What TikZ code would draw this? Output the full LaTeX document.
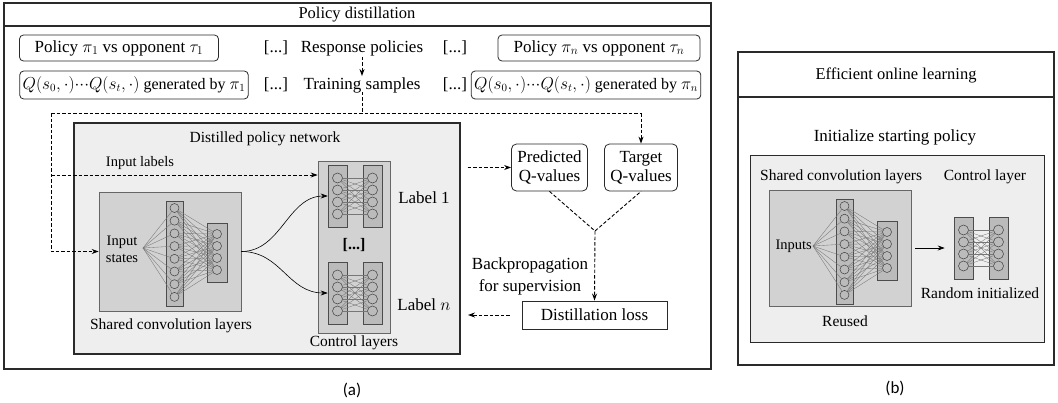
\documentclass[tikz,border=0pt]{standalone}
\usepackage{fontspec}
\setmainfont{Liberation Serif}
\newfontfamily\labfont{Carlito}
\usetikzlibrary{arrows.meta}
\definecolor{bord}{HTML}{2A2A2A}
\definecolor{lightbg}{HTML}{EEEEEE}
\definecolor{netbg}{HTML}{D2D2D2}
\definecolor{colbg}{HTML}{BBBBBB}
\definecolor{wirec}{HTML}{777777}
\newcommand\tdots{\mathord{\cdot}\mathord{\cdot}\mathord{\cdot}}
\tikzset{
  txt/.style={font=\fontsize{17}{19}\selectfont, inner sep=0pt},
  mid/.style={font=\fontsize{15.5}{18}\selectfont, inner sep=0pt},
  small/.style={font=\fontsize{14.5}{17}\selectfont, inner sep=0pt},
  head/.style={font=\fontsize{16.5}{18}\selectfont, inner sep=0pt},
  frame/.style={draw=bord, line width=1.1pt},
  rbox/.style={draw=bord, line width=0.8pt, rounded corners=4pt, txt, minimum height=26pt},
  qbox/.style={draw=bord, line width=0.8pt, rounded corners=4pt, font=\fontsize{16}{18}\selectfont, inner xsep=3pt, inner ysep=0pt, minimum height=28pt},
  dsh/.style={dash pattern=on 3.5pt off 2pt, line width=0.9pt, black},
  tip/.style={-{Stealth[length=7pt,width=5pt]}},
  neuron/.style={circle, draw=black!75, line width=0.5pt, minimum size=9pt, inner sep=0pt, fill=colbg},
  colrect/.style={draw=black!70, line width=0.6pt, fill=colbg, inner sep=0pt},
  netbox/.style={draw=black!60, line width=0.7pt, fill=netbg, inner sep=0pt},
  wire/.style={draw=wirec, line width=0.35pt},
}
\newcommand\drawnet[3]{%
  \node[colrect, minimum width=17pt, minimum height=105pt] (#3c1) at ({#1+75.5},{#2+61.5}) {};
  \node[colrect, minimum width=20pt, minimum height=59pt] (#3c2) at ({#1+118},{#2+60.5}) {};
  \foreach \k in {0,...,7} \node[neuron] (#3a\k) at ({#1+75.5},{#2+16+12.7*\k}) {};
  \foreach \k in {0,...,3} \node[neuron] (#3b\k) at ({#1+118},{#2+42+12*\k}) {};
  \coordinate (#3o) at ({#1+44},{#2+56});
  \foreach \i in {0,...,7} {\draw[wire] (#3o) -- (#3a\i);
    \foreach \j in {0,...,3} \draw[wire] (#3a\i) -- (#3b\j);}
}
\newcommand\ctlpair[3]{%
  \node[colrect, minimum width=19pt, minimum height=62pt] (#3L) at ({#1+9.5},{#2+31}) {};
  \node[colrect, minimum width=19pt, minimum height=62pt] (#3R) at ({#1+44.5},{#2+31}) {};
  \foreach \k in {0,...,3} {\node[neuron, minimum size=10pt] (#3l\k) at ({#1+9.5},{#2+13+12*\k}) {};
    \node[neuron, minimum size=10pt] (#3r\k) at ({#1+44.5},{#2+13+12*\k}) {};}
  \foreach \i in {0,...,3} \foreach \j in {0,...,3} \draw[wire] (#3l\i) -- (#3r\j);
}
\begin{document}
\begin{tikzpicture}[x=1pt,y=-1pt]
\useasboundingbox[fill=white] (0,0) rectangle (1058,402);
% ---------- panel (a)
\node[frame, minimum width=707pt, minimum height=366pt, inner sep=0pt] (pa) at (357.5,186) {};
\coordinate (pahl) at (4,26); \coordinate (pahr) at (711,26);
\draw[frame] (pahl) -- (pahr);
\node[head] (polT) at (357,14.5) {Policy distillation};
% row 1
\node[rbox, minimum width=199pt] (p1) at (119,48) {Policy $\pi_1$ vs opponent $\tau_1$};
\node[txt] (d1) at (276,48) {[...]};
\node[txt] (resp) at (362,48) {Response policies};
\node[txt] (d2) at (455,48) {[...]};
\node[rbox, minimum width=202pt] (pn) at (599,48) {Policy $\pi_n$ vs opponent $\tau_n$};
% row 2
\node[qbox] (q1) at (134,85) {$Q(s_0,\cdot)\tdots Q(s_t,\cdot)$ generated by $\pi_1$};
\node[txt] (d3) at (276,85) {[...]};
\node[txt] (train) at (362,85) {Training samples};
\node[txt] (d4) at (455,85) {[...]};
\node[qbox] (qn) at (586,85) {$Q(s_0,\cdot)\tdots Q(s_t,\cdot)$ generated by $\pi_n$};
\draw[dsh,tip] ([yshift=-1pt]resp.south) -- ([yshift=1pt]train.north);
% distilled network
\node[draw=bord, line width=1.2pt, fill=lightbg, minimum width=386pt, minimum height=231pt, inner sep=0pt] (dist) at (267,238.5) {};
\node[mid] (distT) at (265,139) {Distilled policy network};
\node[netbox, minimum width=142pt, minimum height=119pt] (sharedA) at (170,251.5) {};
\drawnet{99}{192}{A}
\node[small, align=center] (instates) at (122,249) {Input\\states};
\node[mid] (sharedAL) at (171,326) {Shared convolution layers};
\node[netbox, minimum width=72pt, minimum height=172pt] (ctl) at (354,247) {};
\ctlpair{328}{165}{T}
\ctlpair{328}{262}{U}
\node[txt, font=\fontsize{16}{17}\selectfont\bfseries] (ctldots) at (354,245) {[...]};
\node[mid] (ctlL) at (354,343) {Control layers};
\node[txt] (lab1) at (424,198) {Label 1};
\node[txt] (labn) at (424,305) {Label $n$};
\draw[tip, line width=0.6pt] (sharedA.east) .. controls +(40,0) and +(-40,0) .. (TL.west);
\draw[tip, line width=0.6pt] (sharedA.east) .. controls +(40,0) and +(-40,0) .. (UL.west);
% dashed routing
\coordinate (jt) at (362,113);
\coordinate (jl) at (51,113);
\coordinate (jr) at (641,113);
\coordinate (jl1) at (51,175);
\draw[dsh] ([yshift=1pt]train.south) -- (jt);
\draw[dsh] (jl) -- (jr);
\draw[dsh,tip] (jl) |- (sharedA.west);
\draw[dsh,tip] (jl1) -- (ctl.west |- jl1);
\node[small] (inlab) at (140,163) {Input labels};
% right side
\node[draw=bord, line width=0.8pt, rounded corners=5pt, txt, align=center, minimum width=76pt, minimum height=47pt] (pred) at (549.5,167.5) {Predicted\\Q-values};
\node[draw=bord, line width=0.8pt, rounded corners=5pt, txt, align=center, minimum width=73pt, minimum height=47pt] (target) at (641,167.5) {Target\\Q-values};
\draw[dsh,tip] (jr) -- (target.north);
\draw[dsh,tip] ([xshift=7pt]dist.east |- pred.west) -- (pred.west);
\coordinate (jq) at (595,231);
\draw[dsh] (pred.south) -- (jq) -- (target.south);
\node[draw=bord, line width=0.9pt, txt, minimum width=145pt, minimum height=28pt] (loss) at (594.5,315) {Distillation loss};
\draw[dsh,tip] (jq) -- (loss.north);
\coordinate (lossend) at (468,315);
\draw[dsh,tip] ([xshift=-12pt]loss.west) -- (lossend);
\node[txt, font=\fontsize{17}{22}\selectfont, align=center] (bp) at (530,276) {Backpropagation\\for supervision};
% ---------- panel (b)
\node[frame, minimum width=316pt, minimum height=313pt, inner sep=0pt] (pb) at (896,208.5) {};
\coordinate (pbhl) at (738,97); \coordinate (pbhr) at (1054,97);
\draw[frame] (pbhl) -- (pbhr);
\node[head] (effT) at (896,75) {Efficient online learning};
\node[txt] (init) at (895,137) {Initialize starting policy};
\node[draw=bord, line width=1pt, fill=lightbg, minimum width=294pt, minimum height=187pt, inner sep=0pt] (inB) at (897,248.5) {};
\node[mid, anchor=west] (sharedBL) at (760,177) {Shared convolution layers};
\node[mid] (ctlBL) at (985,177) {Control layer};
\node[netbox, minimum width=142pt, minimum height=116pt] (sharedB) at (840,248) {};
\drawnet{769}{190}{B}
\node[small, anchor=east] (inputsB) at (812,246) {Inputs};
\ctlpair{954}{217}{V}
\draw[tip, line width=0.7pt] ([xshift=4pt]sharedB.east |- VL.west) -- ([xshift=-9pt]VL.west);
\node[mid] (randB) at (980,293) {Random initialized};
\node[mid] (reusedB) at (845,321) {Reused};
% ---------- captions
\node[font=\labfont\fontsize{17}{19}\selectfont, inner sep=0pt] (capa) at (352,390) {(a)};
\node[font=\labfont\fontsize{17}{19}\selectfont, inner sep=0pt] (capb) at (895,388) {(b)};
\end{tikzpicture}
\end{document}
